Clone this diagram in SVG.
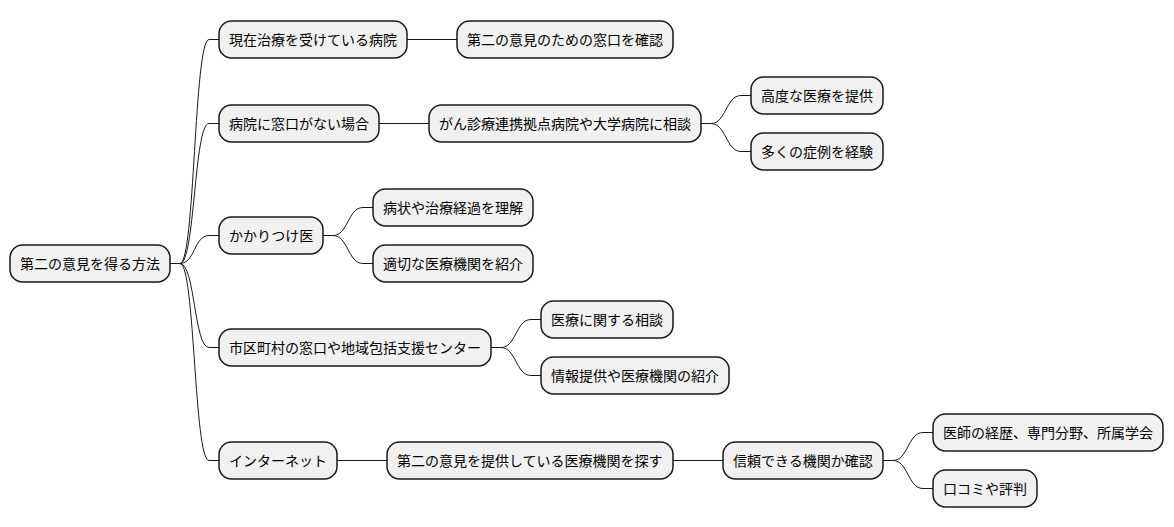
<svg xmlns="http://www.w3.org/2000/svg" width="1174" height="527" viewBox="0 0 1174 527">
<style>
.n rect{fill:#F1F1F1;stroke:#181818;stroke-width:1.5}
.n text{font-family:"Noto Sans CJK JP","Noto Sans",sans-serif;font-size:14px;fill:#000}
.c path{fill:none;stroke:#181818;stroke-width:1}
</style>
<rect width="1174" height="527" fill="#FFFFFF"/>
<g class="c">
<path d="M170,263.5 h10 C195,263.5 194,39.5 209,39.5 h10"/>
<path d="M170,263.5 h10 C195,263.5 194,123.5 209,123.5 h10"/>
<path d="M170,263.5 h10 C195,263.5 194,235.5 209,235.5 h10"/>
<path d="M170,263.5 h10 C195,263.5 194,347.5 209,347.5 h10"/>
<path d="M170,263.5 h10 C195,263.5 194,460.5 209,460.5 h10"/>
<path d="M407,39.5 H457"/>
<path d="M379,123.5 H429"/>
<path d="M701,123.5 h10 C726,123.5 726,95.5 741,95.5 h10"/>
<path d="M701,123.5 h10 C726,123.5 726,151.5 741,151.5 h10"/>
<path d="M323,235.5 h10 C348,235.5 348,207.5 363,207.5 h10"/>
<path d="M323,235.5 h10 C348,235.5 348,263.5 363,263.5 h10"/>
<path d="M491,347.5 h10 C516,347.5 516,319.5 531,319.5 h10"/>
<path d="M491,347.5 h10 C516,347.5 516,375.5 531,375.5 h10"/>
<path d="M337,460.5 H387"/>
<path d="M673,460.5 H723"/>
<path d="M883,460.5 h10 C908,460.5 908,432.5 923,432.5 h10"/>
<path d="M883,460.5 h10 C908,460.5 908,488.5 923,488.5 h10"/>
</g>
<g id="root" class="n"><rect x="10" y="245" width="160" height="37" rx="12.5"/><text x="20" y="268.5">第二の意見を得る方法</text></g>
<g id="n1" class="n"><rect x="219" y="21" width="188" height="37" rx="12.5"/><text x="229" y="44.5">現在治療を受けている病院</text></g>
<g id="n1a" class="n"><rect x="457" y="21" width="216" height="37" rx="12.5"/><text x="467" y="44.5">第二の意見のための窓口を確認</text></g>
<g id="n2" class="n"><rect x="219" y="105" width="160" height="37" rx="12.5"/><text x="229" y="128.5">病院に窓口がない場合</text></g>
<g id="n2a" class="n"><rect x="429" y="105" width="272" height="37" rx="12.5"/><text x="439" y="128.5">がん診療連携拠点病院や大学病院に相談</text></g>
<g id="n2a1" class="n"><rect x="751" y="77" width="132" height="37" rx="12.5"/><text x="761" y="100.5">高度な医療を提供</text></g>
<g id="n2a2" class="n"><rect x="751" y="133" width="132" height="37" rx="12.5"/><text x="761" y="156.5">多くの症例を経験</text></g>
<g id="n3" class="n"><rect x="219" y="217" width="104" height="37" rx="12.5"/><text x="229" y="240.5">かかりつけ医</text></g>
<g id="n3a" class="n"><rect x="373" y="189" width="160" height="37" rx="12.5"/><text x="383" y="212.5">病状や治療経過を理解</text></g>
<g id="n3b" class="n"><rect x="373" y="245" width="160" height="37" rx="12.5"/><text x="383" y="268.5">適切な医療機関を紹介</text></g>
<g id="n4" class="n"><rect x="219" y="329" width="272" height="37" rx="12.5"/><text x="229" y="352.5">市区町村の窓口や地域包括支援センター</text></g>
<g id="n4a" class="n"><rect x="541" y="301" width="132" height="37" rx="12.5"/><text x="551" y="324.5">医療に関する相談</text></g>
<g id="n4b" class="n"><rect x="541" y="357" width="188" height="37" rx="12.5"/><text x="551" y="380.5">情報提供や医療機関の紹介</text></g>
<g id="n5" class="n"><rect x="219" y="442" width="118" height="37" rx="12.5"/><text x="229" y="465.5">インターネット</text></g>
<g id="n5a" class="n"><rect x="387" y="442" width="286" height="37" rx="12.5"/><text x="397" y="465.5">第二の意見を提供している医療機関を探す</text></g>
<g id="n5a1" class="n"><rect x="723" y="442" width="160" height="37" rx="12.5"/><text x="733" y="465.5">信頼できる機関か確認</text></g>
<g id="n5a1a" class="n"><rect x="933" y="414" width="230" height="37" rx="12.5"/><text x="943" y="437.5">医師の経歴、専門分野、所属学会</text></g>
<g id="n5a1b" class="n"><rect x="933" y="470" width="104" height="37" rx="12.5"/><text x="943" y="493.5">口コミや評判</text></g>
</svg>
